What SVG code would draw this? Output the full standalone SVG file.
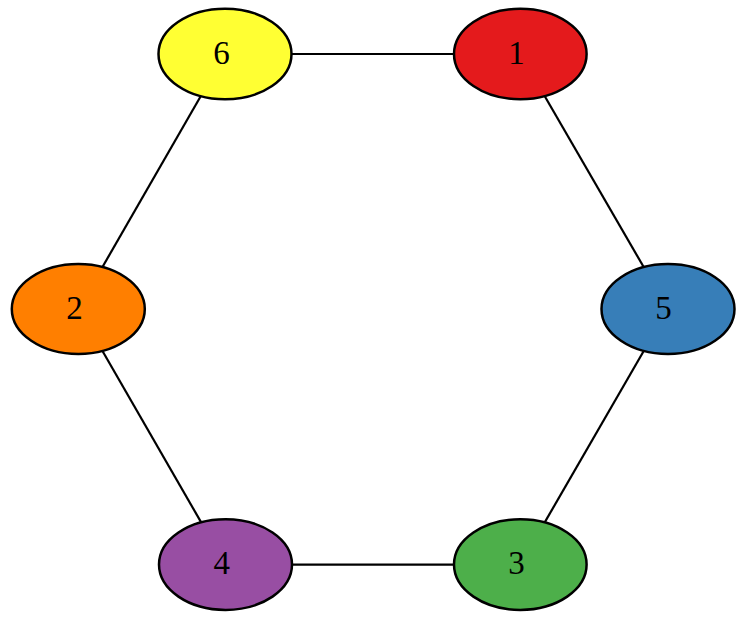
<svg xmlns="http://www.w3.org/2000/svg" width="747" height="625" viewBox="0 0 747 625">
<style>
.node ellipse{stroke:#000;stroke-width:2.5}
.node text{font-family:"Liberation Serif","Times New Roman",serif;font-size:33px;text-anchor:middle;fill:#000}
.edges line{stroke:#000;stroke-width:2.2}
</style>
<rect width="747" height="625" fill="#fff"/>
<g id="edges" class="edges">
<line x1="225" y1="54" x2="520.3" y2="54"/>
<line x1="520.3" y1="54" x2="668" y2="309"/>
<line x1="668" y1="309" x2="520.3" y2="564.6"/>
<line x1="520.3" y1="564.6" x2="225.5" y2="564.6"/>
<line x1="225.5" y1="564.6" x2="78.3" y2="309"/>
<line x1="78.3" y1="309" x2="225" y2="54"/>
</g>
<g id="node6" class="node"><ellipse cx="225" cy="54" rx="66.5" ry="45.3" fill="#ffff33"/><text x="221.5" y="63.5">6</text></g>
<g id="node1" class="node"><ellipse cx="520.3" cy="54" rx="66.3" ry="45.3" fill="#e41a1c"/><text x="516.6" y="63.5">1</text></g>
<g id="node2" class="node"><ellipse cx="78.3" cy="309" rx="66.5" ry="45" fill="#ff7f00"/><text x="74.6" y="318.5">2</text></g>
<g id="node5" class="node"><ellipse cx="668" cy="309" rx="66.5" ry="45" fill="#377eb8"/><text x="663.5" y="318.5">5</text></g>
<g id="node4" class="node"><ellipse cx="225.5" cy="564.6" rx="66.5" ry="45.3" fill="#984ea3"/><text x="221.8" y="574">4</text></g>
<g id="node3" class="node"><ellipse cx="520.3" cy="564.6" rx="66.3" ry="45.3" fill="#4daf4a"/><text x="516.6" y="574">3</text></g>
</svg>
